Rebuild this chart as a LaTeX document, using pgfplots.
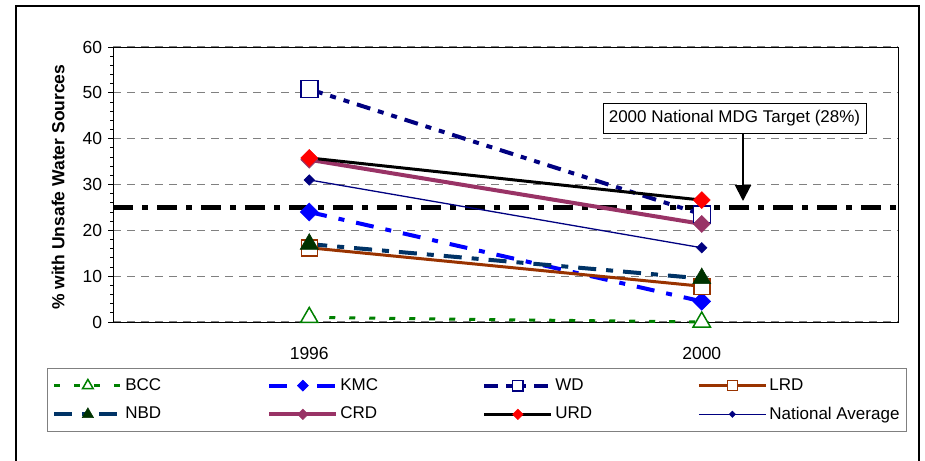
\documentclass[border=0pt]{standalone}
\usepackage{fontspec}
\setmainfont{Liberation Sans}
\usepackage{pgfplots}
\pgfplotsset{compat=1.18}
\usetikzlibrary{arrows.meta}
\definecolor{bccgreen}{RGB}{0,128,0}
\definecolor{kmcblue}{RGB}{0,0,255}
\definecolor{wdnavy}{RGB}{0,0,128}
\definecolor{lrdbrown}{RGB}{153,51,0}
\definecolor{nbdline}{RGB}{0,51,102}
\definecolor{nbdmark}{RGB}{0,51,0}
\definecolor{crdcol}{RGB}{153,51,102}
\definecolor{urdred}{RGB}{255,0,0}
\definecolor{gridgray}{RGB}{128,128,128}
\begin{document}
\fontsize{17}{20}\selectfont
\begin{tikzpicture}
\useasboundingbox (0pt,0pt) rectangle (925pt,-460pt);
\draw[line width=1.3pt] (16pt,-462pt) -- (16pt,-6pt) -- (919pt,-6pt) -- (919pt,-462pt);
\begin{axis}[
  at={(113pt,-322pt)}, anchor=south west,
  scale only axis, width=785pt, height=275pt,
  xmin=-0.5, xmax=1.5, ymin=0, ymax=60,
  xtick={0,1}, xticklabels={1996,2000},
  x tick style={draw=none},
  xticklabel style={anchor=center, yshift=-26pt},
  ytick={0,10,...,60}, minor y tick num=4,
  tick align=outside, ytick pos=left, xtick pos=bottom,
  major tick length=5pt, minor tick length=3pt,
  y tick style={black, line width=0.9pt},
  ymajorgrids, major grid style={gridgray, line width=1.2pt, dash pattern=on 8pt off 6pt},
  axis line style={line width=1pt},
  tick label style={font=\fontsize{17.5}{20}\selectfont},
  /pgf/number format/assume math mode=true,
  ylabel={\bfseries \% with Unsafe Water Sources},
  ylabel style={at={(axis description cs:-0.070,0.49)}, anchor=center, font=\fontsize{17.5}{20}\selectfont},
  clip=false,
  legend columns=4,
  legend cell align=left,
  legend style={at={(-0.0841,-0.1673)}, anchor=north west, draw=gray, line width=0.8pt,
    font=\fontsize{17}{20}\selectfont, inner xsep=5pt, inner ysep=8pt, row sep=10pt,
    nodes={inner xsep=2pt, inner ysep=2pt}},
  legend image code/.code={\draw[mark repeat=2,mark phase=2,#1] plot coordinates {(0pt,0pt) (33.5pt,0pt) (67pt,0pt)};},
  every legend image post/.append style={every mark/.append style={scale=0.62}},
]
% target line
\addplot[black, line width=5pt, dash pattern=on 20pt off 9pt on 6pt off 9pt, forget plot] coordinates {(-0.5,25) (1.5,25)};

\addplot[bccgreen, line width=3pt, dash pattern=on 6pt off 14pt, mark=triangle*, mark size=10pt,
  mark options={solid, fill=white, draw=bccgreen, line width=1.5pt}] coordinates {(0,1) (1,0)};
\addlegendentry{\makebox[140pt][l]{BCC}}

\addplot[kmcblue, line width=4pt, dash pattern=on 18pt off 12pt on 6pt off 12pt, mark=square*, mark size=6.3pt,
  mark options={solid, rotate=45, fill=kmcblue, draw=kmcblue, line width=0.5pt}] coordinates {(0,24) (1,4.5)};
\addlegendentry{\makebox[140pt][l]{KMC}}

\addplot[wdnavy, line width=4pt, dash pattern=on 14pt off 8pt on 6pt off 8pt on 6pt off 8pt, mark=square*, mark size=8.5pt,
  mark options={solid, fill=white, draw=wdnavy, line width=1.5pt}] coordinates {(0,50.8) (1,23.5)};
\addlegendentry{\makebox[140pt][l]{WD}}

\addplot[lrdbrown, line width=3pt, mark=square*, mark size=8pt,
  mark options={solid, fill=white, draw=lrdbrown, line width=1.5pt}] coordinates {(0,16.2) (1,7.8)};
\addlegendentry{LRD}

\addplot[nbdline, line width=4pt, dash pattern=on 18pt off 10pt on 7pt off 10pt, mark=triangle*, mark size=10.5pt,
  mark options={solid, fill=nbdmark, draw=nbdmark, line width=0.5pt}] coordinates {(0,17) (1,9.5)};
\addlegendentry{\makebox[140pt][l]{NBD}}

\addplot[crdcol, line width=4pt, mark=square*, mark size=6pt,
  mark options={solid, rotate=45, fill=crdcol, draw=crdcol, line width=0.5pt}] coordinates {(0,35.4) (1,21.4)};
\addlegendentry{\makebox[140pt][l]{CRD}}

\addplot[black, line width=3pt, mark=square*, mark size=6pt,
  mark options={solid, rotate=45, fill=urdred, draw=urdred, line width=0.5pt}] coordinates {(0,35.8) (1,26.6)};
\addlegendentry{\makebox[140pt][l]{URD}}

\addplot[wdnavy, line width=1.3pt, mark=square*, mark size=3.7pt,
  mark options={solid, rotate=45, fill=wdnavy, draw=wdnavy, line width=0.5pt}] coordinates {(0,31) (1,16.2)};
\addlegendentry{National Average}
\end{axis}
\node[draw, line width=1pt, fill=white, inner sep=0pt, minimum width=263pt, minimum height=30pt] at (734.5pt,-118pt) {2000 National MDG Target (28\%)};
\draw[line width=2pt, -{Triangle[width=16pt,length=16pt]}] (743pt,-133pt) -- (743pt,-201pt);
\end{tikzpicture}
\end{document}
